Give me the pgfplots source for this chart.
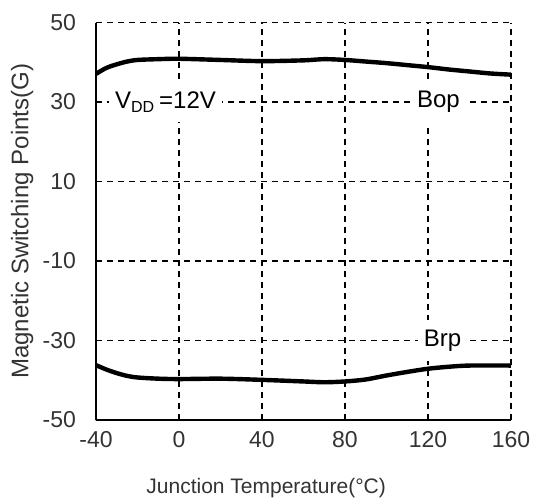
\documentclass[border=0pt]{standalone}
\usepackage{fontspec}
\setmainfont{Liberation Sans}
\usepackage{pgfplots}
\pgfplotsset{compat=1.18}
\usetikzlibrary{calc}
\definecolor{ticktext}{RGB}{51,51,51}

\begin{document}
\begin{tikzpicture}
\begin{axis}[
  scale only axis,
  width=207.5pt, height=198.7pt,
  xmin=-40, xmax=160, ymin=-50, ymax=50,
  xtick={-40,0,40,80,120,160},
  ytick={-50,-30,-10,10,30,50},
  axis x line*=bottom, axis y line*=left,
  axis line style={-, black, line width=1pt},
  tick align=inside,
  major tick length=3pt,
  tick style={black, line width=0.8pt},
  grid=major,
  grid style={black, line width=0.7pt, dash pattern=on 3pt off 2.5pt},
  ticklabel style={font=\fontsize{11.5}{13}\selectfont, color=ticktext},
  /pgf/number format/assume math mode=true,
  yticklabel style={xshift=-6.5pt},
  xticklabel style={yshift=-2pt},
  xlabel={Junction Temperature(°C)},
  ylabel={Magnetic Switching Points(G)},
  label style={color=ticktext},
  xlabel style={font=\fontsize{10.5}{12}\selectfont, at={(axis description cs:0.41,-0.171)}, anchor=center},
  ylabel style={font=\fontsize{12}{14}\selectfont, at={(axis description cs:-0.178,0.5)}, anchor=center},
]
% Bop
\addplot[black, line width=2.2pt, smooth] coordinates {
  (-40,37.1)(-35,38.6)(-30,39.5)(-25,40.2)(-20,40.6)(-10,40.8)(0,40.9)
  (20,40.6)(40,40.3)(60,40.5)(70,40.8)(80,40.6)(90,40.2)(100,39.8)
  (110,39.3)(120,38.8)(130,38.2)(140,37.7)(150,37.2)(160,36.9)
};
% Brp
\addplot[black, line width=2.2pt, smooth] coordinates {
  (-40,-36.2)(-35,-37.3)(-30,-38.2)(-25,-38.9)(-20,-39.3)(-10,-39.6)(0,-39.7)
  (20,-39.6)(40,-39.9)(60,-40.3)(70,-40.5)(80,-40.3)(90,-39.8)(100,-38.8)
  (110,-37.9)(120,-37.1)(130,-36.6)(140,-36.3)(160,-36.3)
};
\draw[black, line width=1pt] (rel axis cs:0,1) -- (rel axis cs:0,0) -- (rel axis cs:1,0);
\node[fill=white, inner xsep=3pt, inner ysep=5pt, font=\fontsize{12}{14}\selectfont]
  at (axis cs:-6.5,30) {V\textsubscript{DD}\,=12V};
\node[fill=white, inner xsep=3pt, inner ysep=5pt, font=\fontsize{12}{14}\selectfont]
  at (axis cs:125,30) {Bop};
\node[fill=white, inner xsep=3pt, inner ysep=5pt, font=\fontsize{12}{14}\selectfont]
  at (axis cs:127,-30) {Brp};
\coordinate (sw) at (rel axis cs:0,0);
\coordinate (ne) at (rel axis cs:1,1);
\end{axis}
\pgfresetboundingbox
\path[use as bounding box] ($(sw)+(-48pt,-41.5pt)$) rectangle ($(ne)+(11.5pt,11.3pt)$);
\end{tikzpicture}
\end{document}
